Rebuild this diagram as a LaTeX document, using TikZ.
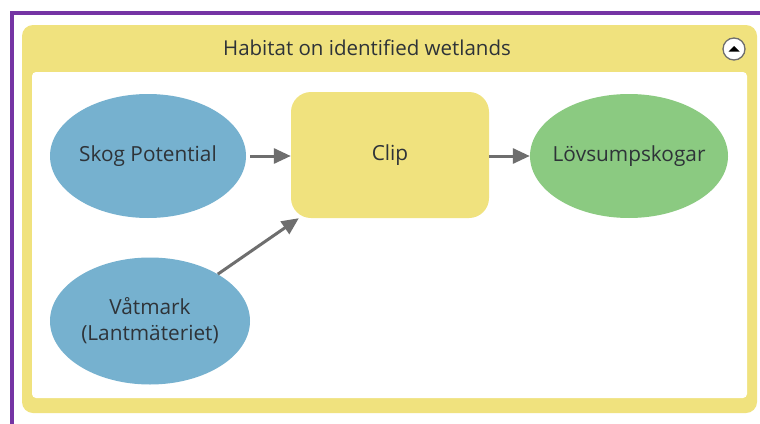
\documentclass[tikz,border=0pt]{standalone}
\usepackage{fontspec}
\setmainfont{Open Sans}
\usetikzlibrary{arrows.meta,shapes.geometric,calc}
\definecolor{purp}{HTML}{7534A4}
\definecolor{ylw}{HTML}{F0E27E}
\definecolor{blu}{HTML}{76B1CF}
\definecolor{grn}{HTML}{8BCA81}
\definecolor{arr}{HTML}{6E6E6E}
\definecolor{txt}{HTML}{2E3338}
\tikzset{
  x=1pt,y=-1pt,
  lbl/.style={font=\fontsize{20.8}{26}\selectfont, text=txt, align=center, inner sep=0pt},
  dataset/.style={ellipse, inner sep=0pt, minimum width=196pt, minimum height=124pt},
  toolbox/.style={rectangle, rounded corners=20pt, fill=ylw, lbl, minimum width=198pt, minimum height=126pt},
  conn/.style={draw=arr, line width=3pt, -{Triangle[length=17pt,width=15pt]}}
}
\begin{document}
\begin{tikzpicture}
\useasboundingbox (0,0) rectangle (760,423);
\fill[white] (0,0) rectangle (760,423);
% purple frame
\draw[purp, line width=4pt] (12,430) -- (12,13) -- (770,13);
% group container
\fill[ylw, rounded corners=11pt] (22,25) rectangle (757,413);
\fill[white, rounded corners=4pt] (32,72) rectangle (747,398);
\node[font=\fontsize{20.5}{24}\selectfont, text=txt] (title) at (367,48) {Habitat on identified wetlands};
\node[circle, draw=arr, line width=1.3pt, fill=white, minimum size=22pt, inner sep=0pt] (btn) at (734,49) {};
\fill[black] ($(btn.center)+(-5.5,2.5)$) -- ($(btn.center)+(0,-3)$) -- ($(btn.center)+(5.5,2.5)$) -- cycle;
% nodes
\node[dataset, fill=blu] (skog) at (148,156) {};
\node[lbl] (skogl) at (skog.center) {Skog Potential};
\node[dataset, fill=blu, minimum width=200pt, minimum height=127pt] (vat) at (150,321) {};
\node[lbl] (vatl) at (vat.center) {Våtmark\\(Lantmäteriet)};
\node[toolbox] (clip) at (390,155) {Clip};
\node[dataset, fill=grn, minimum width=198pt] (lov) at (629,156) {};
\node[lbl] (lovl) at (lov.center) {Lövsumpskogar};
% connectors
\draw[conn, shorten <=4pt] (skog.east) -- (skog.east -| clip.west);
\draw[conn] (clip.east |- lov.west) -- (lov.west);
\draw[conn] (vat) -- (clip);
\end{tikzpicture}
\end{document}
